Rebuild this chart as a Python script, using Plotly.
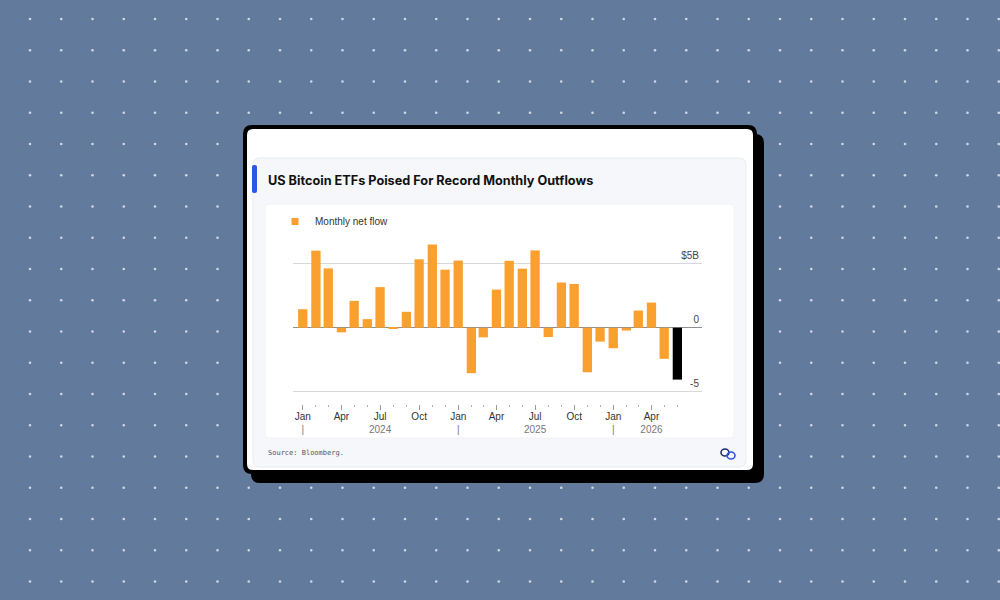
import plotly.graph_objects as go

# ---------------- data ----------------
months = ["2024-01-01", "2024-02-01", "2024-03-01", "2024-04-01", "2024-05-01", "2024-06-01",
          "2024-07-01", "2024-08-01", "2024-09-01", "2024-10-01", "2024-11-01", "2024-12-01",
          "2025-01-01", "2025-02-01", "2025-03-01", "2025-04-01", "2025-05-01", "2025-06-01",
          "2025-07-01", "2025-08-01", "2025-09-01", "2025-10-01", "2025-11-01", "2025-12-01",
          "2026-01-01", "2026-02-01", "2026-03-01", "2026-04-01", "2026-05-01", "2026-06-01"]
net_flow = [1.44, 6.0, 4.62, -0.36, 2.09, 0.67, 3.16, -0.09, 1.24, 5.33, 6.48, 4.52,
            5.23, -3.54, -0.75, 2.97, 5.21, 4.6, 6.02, -0.73, 3.52, 3.41, -3.47, -1.08,
            -1.6, -0.22, 1.34, 1.96, -2.42, -4.04]
series_name = "Monthly net flow"
title_text = "US Bitcoin ETFs Poised For Record Monthly Outflows"
source_text = "Source: Bloomberg."

x_tickvals = ["2024-01-01", "2024-04-01", "2024-07-01", "2024-10-01",
              "2025-01-01", "2025-04-01", "2025-07-01", "2025-10-01",
              "2026-01-01", "2026-04-01"]
x_month_labels = ["Jan", "Apr", "Jul", "Oct", "Jan", "Apr", "Jul", "Oct", "Jan", "Apr"]
x_second_row = ["|", "", "2024", "", "|", "", "2025", "", "|", "2026"]
y_tickvals = [-5, 0, 5]
y_ticktext = ["-5", "0", "$5B"]

# ---------------- styles ----------------
W, H = 1000, 600
BG = "#627a9c"
ORANGE = "#f9a02f"
HIGHLIGHT = "#000000"


def X(v):
    return v / W


def Y(v):
    return 1 - v / H


def rrect(x0, y0, x1, y1, r):
    return (f"M{X(x0 + r)},{Y(y0)} L{X(x1 - r)},{Y(y0)} Q{X(x1)},{Y(y0)} {X(x1)},{Y(y0 + r)} "
            f"L{X(x1)},{Y(y1 - r)} Q{X(x1)},{Y(y1)} {X(x1 - r)},{Y(y1)} "
            f"L{X(x0 + r)},{Y(y1)} Q{X(x0)},{Y(y1)} {X(x0)},{Y(y1 - r)} "
            f"L{X(x0)},{Y(y0 + r)} Q{X(x0)},{Y(y0)} {X(x0 + r)},{Y(y0)} Z")


shapes = []
# dotted background
step = 31.25
for j in range(19):
    for i in range(32):
        cx, cy = 30 + i * step, 19 + j * step
        shapes.append(dict(type="circle", xref="paper", yref="paper", layer="below",
                           x0=X(cx - 1.3), x1=X(cx + 1.3), y0=Y(cy + 1.3), y1=Y(cy - 1.3),
                           fillcolor="#cfd8e6", line=dict(width=0)))
# card shadow, border, white card
shapes.append(dict(type="path", xref="paper", yref="paper", layer="below",
                   path=rrect(251, 134, 764, 483, 9), fillcolor="#000000", line=dict(width=0)))
shapes.append(dict(type="path", xref="paper", yref="paper", layer="below",
                   path=rrect(243, 125, 757, 474, 9), fillcolor="#000000", line=dict(width=0)))
shapes.append(dict(type="path", xref="paper", yref="paper", layer="below",
                   path=rrect(247, 129, 753, 470, 6), fillcolor="#ffffff", line=dict(width=0)))
# inner light card
shapes.append(dict(type="path", xref="paper", yref="paper", layer="below",
                   path=rrect(253, 158, 746, 467, 7), fillcolor="#f5f7fb",
                   line=dict(color="#e7ebf1", width=1)))
# blue accent
shapes.append(dict(type="path", xref="paper", yref="paper", layer="below",
                   path=rrect(252, 165, 257, 193, 2), fillcolor="#2d55e6", line=dict(width=0)))
# white chart panel
shapes.append(dict(type="path", xref="paper", yref="paper", layer="below",
                   path=rrect(265, 204, 734, 438, 4), fillcolor="#ffffff",
                   line=dict(color="#f0f2f6", width=1)))
# small logo
shapes.append(dict(type="circle", xref="paper", yref="paper", layer="below",
                   x0=X(721), x1=X(729), y0=Y(456), y1=Y(449),
                   fillcolor="rgba(0,0,0,0)", line=dict(color="#1f2d6b", width=1.6)))
shapes.append(dict(type="circle", xref="paper", yref="paper", layer="below",
                   x0=X(727), x1=X(735), y0=Y(459), y1=Y(452),
                   fillcolor="rgba(0,0,0,0)", line=dict(color="#2d55e6", width=1.6)))

colors = [ORANGE] * (len(net_flow) - 1) + [HIGHLIGHT]
bar_width_ms = 21.9 * 86400000

fig = go.Figure()
fig.add_trace(go.Bar(x=months, y=net_flow, width=bar_width_ms, marker=dict(color=colors, line=dict(width=0)),
                     name=series_name, showlegend=False, hoverinfo="x+y"))
fig.add_trace(go.Scatter(x=[None], y=[None], mode="markers", name=series_name,
                         marker=dict(symbol="square", size=7, color=ORANGE), showlegend=True))

ticktext = [f"{m}<br><span style='color:#777'>{s}</span>" for m, s in zip(x_month_labels, x_second_row)]

fig.update_layout(
    width=W, height=H, autosize=False,
    margin=dict(l=0, r=0, t=0, b=0),
    paper_bgcolor=BG, plot_bgcolor="rgba(0,0,0,0)",
    shapes=shapes,
    font=dict(family="Liberation Sans, Arial, sans-serif", color="#333333"),
    showlegend=True,
    legend=dict(x=X(275), y=Y(207), xanchor="left", yanchor="top", orientation="h",
                bgcolor="rgba(0,0,0,0)", font=dict(size=10, color="#333333"), itemwidth=30),
    bargap=0.28,
    xaxis=dict(type="date", domain=[X(293), X(702)], range=["2023-12-09", "2026-07-29"],
               tickmode="array", tickvals=x_tickvals, ticktext=ticktext,
               ticks="outside", ticklen=5, tickwidth=1, tickcolor="#9a9a9a",
               ticklabelstandoff=-2,
               tickfont=dict(size=10, color="#333333"),
               minor=dict(tickmode="array", tickvals=months, ticks="outside", ticklen=2,
                          tickwidth=1, tickcolor="#b5b5b5", showgrid=False),
               showgrid=False, zeroline=False, showline=False, fixedrange=True),
    yaxis=dict(domain=[Y(404), Y(230)], range=[-5.94, 7.61], side="right",
               tickmode="array", tickvals=y_tickvals, ticktext=y_ticktext,
               ticklabelposition="inside", ticklabelshift=-8, ticks="",
               tickfont=dict(size=10, color="#444444"),
               showgrid=True, gridcolor="#d8d8d8", gridwidth=1,
               zeroline=True, zerolinecolor="#8f8f8f", zerolinewidth=1,
               showline=False, fixedrange=True),
    annotations=[
        dict(text=f"<b>{title_text}</b>", x=X(266), y=Y(180), xref="paper", yref="paper",
             xanchor="left", yanchor="middle", showarrow=False,
             font=dict(family="Inter, Liberation Sans, sans-serif", size=12.7, color="#111111")),
        dict(text=source_text, x=X(266), y=Y(453), xref="paper", yref="paper",
             xanchor="left", yanchor="middle", showarrow=False,
             font=dict(family="DejaVu Sans Mono, monospace", size=7, color="#555555")),
    ],
)

fig.write_html("out.html", config={"displayModeBar": False},
               post_script="document.body.style.margin='0';document.body.style.overflow='hidden';")
